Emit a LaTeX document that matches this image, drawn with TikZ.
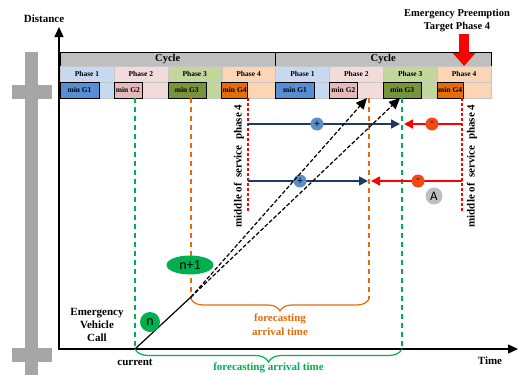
\documentclass[tikz,border=0pt]{standalone}
\usepackage{fontspec}
\setmainfont{Liberation Serif}
\setsansfont{Carlito}
\usetikzlibrary{arrows.meta, positioning, shapes.geometric, decorations.pathreplacing}

\definecolor{cyclegray}{HTML}{BFBFBF}
\definecolor{bargray}{HTML}{A6A6A6}
\definecolor{phOneL}{HTML}{C6D9F1}
\definecolor{phOneD}{HTML}{558ED5}
\definecolor{phTwoL}{HTML}{F2DCDB}
\definecolor{phTwoD}{HTML}{E6B9B8}
\definecolor{phThreeL}{HTML}{C3D69B}
\definecolor{phThreeD}{HTML}{77933C}
\definecolor{phFourL}{HTML}{FCD5B5}
\definecolor{phFourD}{HTML}{E46C0A}
\definecolor{evgreen}{HTML}{00B050}
\definecolor{fcorange}{HTML}{E36C09}
\definecolor{navyline}{HTML}{1F3864}
\definecolor{plusblue}{HTML}{5B8FCC}
\definecolor{minusred}{HTML}{F24A16}

\begin{document}
\begin{tikzpicture}[
    x=1pt, y=-1pt,
    every node/.style={font=\bfseries\fontsize{11}{13}\selectfont, inner sep=0pt, outer sep=0pt},
    cyclebox/.style={rectangle, draw, thin, fill=cyclegray, minimum width=215.5pt, minimum height=14pt, font=\bfseries\fontsize{10.5}{12}\selectfont},
    phasebox/.style={rectangle, draw=gray!45, very thin, minimum width=53.875pt, minimum height=16pt, font=\bfseries\fontsize{7.5}{9}\selectfont},
    mingbox/.style={rectangle, draw, thin, minimum height=16pt, anchor=north west, font=\bfseries\fontsize{7.5}{9}\selectfont},
    axis/.style={line width=1.3pt, {Triangle[length=10pt, width=9pt]}-{Triangle[length=10pt, width=9pt]}},
    vdash/.style={line width=1.2pt, dash pattern=on 5pt off 4pt},
    reddash/.style={red, line width=1.2pt, dash pattern=on 3pt off 2pt},
    fbrace/.style={decorate, decoration={brace, amplitude=12pt, mirror}, line width=1.2pt},
    bluearrow/.style={navyline, line width=1.5pt, -{Triangle[length=9pt, width=9pt]}},
    redarrow/.style={red, line width=1.5pt, -{Triangle[length=9pt, width=9pt]}},
    pathline/.style={black, line width=1.2pt, dash pattern=on 4pt off 2pt, -{Triangle[length=11pt, width=10pt]}},
    plusdot/.style={circle, fill=plusblue, minimum size=13pt, font=\sffamily\fontsize{11}{11}\selectfont},
    minusdot/.style={circle, fill=minusred, minimum size=13pt, font=\sffamily\fontsize{11}{11}\selectfont},
    vehdot/.style={fill=evgreen, font=\sffamily\fontsize{14}{14}\selectfont},
    label/.style={font=\bfseries\fontsize{11}{14}\selectfont, align=center}
]
\useasboundingbox (0,0) rectangle (520,375);

% ============ ROAD (LEFT) ============
\fill[bargray] (25,52) rectangle (38,375);
\fill[bargray] (12,85) rectangle (52,99);
\fill[bargray] (12,348) rectangle (52,362);

% ============ AXES ============
\coordinate (orig) at (59,349);
\coordinate (tend) at (518,349);
\coordinate (dend) at (59,27);
\draw[axis] (tend) -- (orig) -- (dend);
\node (dist) at (44,19) {Distance};
\node (time) at (490,361) {Time};

% ============ SIGNAL CYCLES ============
\node[cyclebox, anchor=north west] (cyc1) at (60,52) {Cycle};
\node[cyclebox, right=0pt of cyc1] (cyc2) {Cycle};

% Phases
\node[phasebox, fill=phOneL, anchor=north west] (ph1) at (cyc1.south west) {Phase 1};
\node[phasebox, fill=phTwoL, right=0pt of ph1] (ph2) {Phase 2};
\node[phasebox, fill=phThreeL, right=0pt of ph2] (ph3) {Phase 3};
\node[phasebox, fill=phFourL, right=0pt of ph3] (ph4) {Phase 4};
\node[phasebox, fill=phOneL, anchor=north west] (ph5) at (cyc2.south west) {Phase 1};
\node[phasebox, fill=phTwoL, right=0pt of ph5] (ph6) {Phase 2};
\node[phasebox, fill=phThreeL, right=0pt of ph6] (ph7) {Phase 3};
\node[phasebox, fill=phFourL, right=0pt of ph7] (ph8) {Phase 4};

% Remaining green time
\filldraw[phOneL, draw=gray!45, very thin] (ph1.south west) rectangle ([yshift=-16pt]ph1.south east);
\filldraw[phTwoL, draw=gray!45, very thin] (ph2.south west) rectangle ([yshift=-16pt]ph2.south east);
\filldraw[phThreeL, draw=gray!45, very thin] (ph3.south west) rectangle ([yshift=-16pt]ph3.south east);
\filldraw[phFourL, draw=gray!45, very thin] (ph4.south west) rectangle ([yshift=-16pt]ph4.south east);
\filldraw[phOneL, draw=gray!45, very thin] (ph5.south west) rectangle ([yshift=-16pt]ph5.south east);
\filldraw[phTwoL, draw=gray!45, very thin] (ph6.south west) rectangle ([yshift=-16pt]ph6.south east);
\filldraw[phThreeL, draw=gray!45, very thin] (ph7.south west) rectangle ([yshift=-16pt]ph7.south east);
\filldraw[phFourL, draw=gray!45, very thin] (ph8.south west) rectangle ([yshift=-16pt]ph8.south east);

% Minimum green
\node[mingbox, fill=phOneD, minimum width=39pt] (g1) at (ph1.south west) {min G1};
\node[mingbox, fill=phTwoD, minimum width=28pt] (g2) at (ph2.south west) {min G2};
\node[mingbox, fill=phThreeD, minimum width=38pt] (g3) at (ph3.south west) {min G3};
\node[mingbox, fill=phFourD, minimum width=26pt] (g4) at (ph4.south west) {min G4};
\node[mingbox, fill=phOneD, minimum width=39pt] (g5) at (ph5.south west) {min G1};
\node[mingbox, fill=phTwoD, minimum width=28pt] (g6) at (ph6.south west) {min G2};
\node[mingbox, fill=phThreeD, minimum width=38pt] (g7) at (ph7.south west) {min G3};
\node[mingbox, fill=phFourD, minimum width=26pt] (g8) at (ph8.south west) {min G4};

% Preemption target
\node[align=center, font=\bfseries\fontsize{10.5}{13}\selectfont] (epre) at (457,21) {Emergency Preemption\\Target Phase 4};
\draw[red, line width=10pt, -{Triangle[length=13pt, width=22pt]}] ([yshift=-2pt]epre.south -| ph8.north) -- (ph8.north);

% ============ TIME MARKERS ============
\coordinate (grA) at (135,98);
\coordinate (grB) at (402,98);
\coordinate (grBb) at (402,349);
\coordinate (orA) at (191,98);
\coordinate (orAb) at (191,299);
\coordinate (orB) at (369,98);
\coordinate (orBb) at (369,299);
\coordinate (rdA) at (248,98);
\coordinate (rdAb) at (248,212);
\coordinate (rdB) at (462,98);
\coordinate (rdBb) at (462,212);

\draw[vdash, evgreen] (grA) -- (orig -| grA);
\draw[vdash, evgreen] (grB) -- (grBb);
\draw[vdash, fcorange] (orA) -- (orAb);
\draw[vdash, fcorange] (orB) -- (orBb);
\draw[reddash] (rdA) -- (rdAb);
\draw[reddash] (rdB) -- (rdBb);

\node[rotate=90] (mid1) at (239,166) {middle of\ \ service\ \ phase 4};
\node[rotate=90] (mid2) at (472,166) {middle of\ \ service\ \ phase 4};

% Adjustments toward target
\coordinate (upL) at (248,124);
\coordinate (upR) at (462,124);
\coordinate (upG) at (400,124);
\coordinate (upGr) at (404,124);
\coordinate (loL) at (248,181);
\coordinate (loR) at (462,181);
\coordinate (loO) at (368,181);
\coordinate (loOr) at (371,181);
\draw[bluearrow] (upL) -- (upG);
\draw[redarrow] (upR) -- (upGr);
\draw[bluearrow] (loL) -- (loO);
\draw[redarrow] (loR) -- (loOr);
\node[plusdot] (pl1) at (317,124) {+};
\node[minusdot] (mi1) at (432,124) {-};
\node[plusdot] (pl2) at (300,181) {+};
\node[minusdot] (mi2) at (418,181) {-};
\node[circle, fill=cyclegray, minimum size=17pt, font=\sffamily\fontsize{13}{13}\selectfont] (ca) at (434,196) {A};

% ============ VEHICLE TRAJECTORY ============
\coordinate (cur) at (135,349);
\coordinate (split) at (191,297);
\draw[line width=1.2pt] (cur) -- (split);
\draw[pathline] (split) -- ([xshift=-2pt]orB);
\draw[pathline] (split) -- ([xshift=-2pt]grB);
\node[circle, vehdot, minimum size=20pt] (nn) at (150,322) {n};
\node[ellipse, vehdot, minimum width=47pt, minimum height=19pt] (nn1) at (190,265) {n+1};

% Forecasting braces
\draw[fbrace, fcorange] (orAb) -- (orBb)
    node[midway, below=15pt, label, text=fcorange] (fc1) {forecasting\\arrival time};
\draw[fbrace, evgreen, decoration={amplitude=13pt}] (cur) -- (grBb)
    node[midway, below=14pt, label, text=evgreen] (fc2) {forecasting arrival time};

\node[label, font=\bfseries\fontsize{11}{13}\selectfont] (evc) at (97,325) {Emergency\\Vehicle\\Call};
\node (curr) at (135,362) {current};

\end{tikzpicture}
\end{document}
